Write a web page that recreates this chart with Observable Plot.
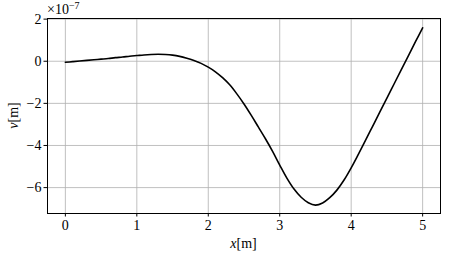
<!DOCTYPE html>
<html>
<head>
<meta charset="utf-8">
<script src="https://cdn.jsdelivr.net/npm/d3@7"></script>
<script src="https://cdn.jsdelivr.net/npm/@observablehq/plot@0.6"></script>
<style>
  html, body { margin: 0; padding: 0; background: white; }
  svg { display: block; }
  svg text { font-family: 'Liberation Serif', serif !important; }
</style>
</head>
<body>
<div id="chart"></div>
<script>
// x positions [m]
const xs = [0.0,0.1,0.2,0.3,0.4,0.5,0.6,0.7,0.8,0.9,1.0,1.1,1.2,1.3,1.4,1.5,1.6,1.7,1.8,1.9,
            2.0,2.1,2.2,2.3,2.4,2.5,2.6,2.7,2.8,2.9,3.0,3.1,3.2,3.3,3.4,3.5,3.6,3.7,3.8,3.9,
            4.0,4.1,4.2,4.3,4.4,4.5,4.6,4.7,4.8,4.9,5.0];
// deflection v in units of 1e-7 m
const vE7 = [-0.05,-0.02,0.01,0.04,0.07,0.10,0.13,0.17,0.20,0.24,0.27,0.30,0.32,0.33,0.32,0.29,0.23,0.14,0.03,-0.10,
             -0.28,-0.50,-0.78,-1.12,-1.55,-2.03,-2.56,-3.12,-3.68,-4.28,-4.93,-5.55,-6.07,-6.46,-6.72,-6.83,-6.73,-6.48,-6.12,-5.64,
             -5.06,-4.42,-3.76,-3.09,-2.42,-1.75,-1.08,-0.41,0.26,0.93,1.59];
const xTicks = [0, 1, 2, 3, 4, 5];
const yTicks = [-6, -4, -2, 0, 2];

const data = xs.map((x, i) => ({x, v: vE7[i]}));
const font = "'Liberation Serif', serif";
const fmtY = d => d < 0 ? "\u2212" + (-d) : String(d);

const svg = Plot.plot({
  width: 450,
  height: 256,
  marginLeft: 47,
  marginRight: 10,
  marginTop: 18,
  marginBottom: 43,
  style: {fontFamily: font, fontSize: "14px", background: "white", color: "black"},
  x: {domain: [-0.25, 5.25]},
  y: {domain: [-7.23, 2.03]},
  marks: [
    Plot.gridX(xTicks, {stroke: "#b0b0b0", strokeOpacity: 1, strokeWidth: 0.8}),
    Plot.gridY(yTicks, {stroke: "#b0b0b0", strokeOpacity: 1, strokeWidth: 0.8}),
    Plot.line(data, {x: "x", y: "v", stroke: "black", strokeWidth: 1.6, curve: "catmull-rom"}),
    Plot.frame({stroke: "black", strokeWidth: 1}),
    Plot.axisX(xTicks, {tickSize: 3.5, tickPadding: 3.5, tickFormat: d => String(d), label: null, fontSize: 14}),
    Plot.axisY(yTicks, {tickSize: 3.5, tickPadding: 2.5, tickFormat: fmtY, label: null, fontSize: 14})
  ]
});

const s = d3.select(svg);
// offset label
const off = s.append("text").attr("x", 47).attr("y", 14).attr("text-anchor", "start")
  .style("font-size", "14px").attr("fill", "black");
off.append("tspan").text("\u00d710");
off.append("tspan").attr("dy", -5.5).style("font-size", "10px").text("\u22127");
// x label
const xl = s.append("text").attr("x", 243.5).attr("y", 247.5).attr("text-anchor", "middle")
  .style("font-size", "14px").attr("fill", "black");
xl.append("tspan").style("font-style", "italic").text("x");
xl.append("tspan").text("[m]");
// y label
const yl = s.append("text").attr("transform", "translate(17.5,115.5) rotate(-90)").attr("text-anchor", "middle")
  .style("font-size", "14px").attr("fill", "black");
yl.append("tspan").style("font-style", "italic").text("v");
yl.append("tspan").text("[m]");

document.getElementById("chart").appendChild(svg);
</script>
</body>
</html>
